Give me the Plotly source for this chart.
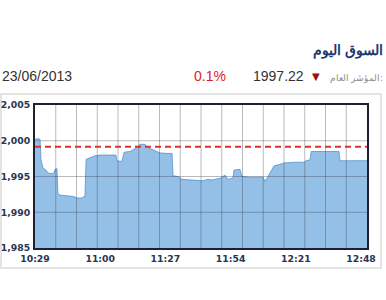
import plotly.graph_objects as go

# ---- data ----
minutes = [0, 1.3, 2.1, 2.5, 3.3, 4.6, 5.4, 6.7, 8.0, 8.4, 9.2, 9.6, 10.5, 13.0, 14.7, 16.3,
           17.6, 19.7, 20.5, 20.9, 21.4, 23.0, 25.1, 27.2, 31.4, 33.9, 34.3, 36.4, 37.3, 39.8,
           42.3, 44.0, 46.1, 47.3, 49.0, 50.7, 52.3, 56.5, 57.4, 57.8, 59.9, 61.5, 64.9, 67.8,
           70.3, 72.4, 74.1, 76.6, 77.9, 79.5, 80.8, 82.9, 83.3, 85.8, 86.7, 90.0, 93.4, 95.5,
           96.3, 97.5, 98.4, 100.1, 102.6, 104.2, 108.9, 112.6, 113.5, 115.1, 115.6, 127.3,
           127.7, 139.0]
values = [2000.2, 2000.3, 2000.2, 1997.4, 1996.2, 1995.9, 1995.5, 1995.4, 1995.5, 1996.0,
          1996.1, 1992.6, 1992.4, 1992.3, 1992.2, 1992.2, 1992.0, 1992.0, 1992.2, 1992.2,
          1997.4, 1997.6, 1997.9, 1998.0, 1998.0, 1998.0, 1997.2, 1997.1, 1998.4, 1998.5,
          1999.0, 1999.5, 1999.5, 1999.0, 1998.8, 1998.5, 1998.3, 1998.2, 1998.2, 1995.1,
          1995.0, 1994.6, 1994.5, 1994.5, 1994.4, 1994.6, 1994.5, 1994.7, 1994.8, 1995.2,
          1994.6, 1994.8, 1995.9, 1996.0, 1995.0, 1994.9, 1994.9, 1994.9, 1994.3, 1995.0,
          1995.7, 1996.5, 1996.7, 1996.9, 1997.0, 1997.0, 1997.2, 1997.3, 1998.5, 1998.5,
          1997.2, 1997.22]
prev_close = 1999.15
x_tick_labels = ["10:29", "11:00", "11:27", "11:54", "12:21", "12:48"]
y_ticks = [1985, 1990, 1995, 2000, 2005]

title = "السوق اليوم"
index_label = "المؤشر العام:"
index_value = "1997.22"
change_pct = "0.1%"
date_text = "23/06/2013"

# ---- layout helpers ----
W, H = 386, 300
L, R, T, B = 35, 19, 105, 52
pw, ph = W - L - R, H - T - B
def px(x):
    return (x - L) / pw
def py(y):
    return (H - B - y) / ph

x_max = 139.0
n_grid = 16
tick_pos = [i * 136.5 / 5 for i in range(6)]
tick_font = dict(family="DejaVu Sans", size=9.3, color="#2a3550", weight="bold")
grid_col = "rgba(45,50,65,0.33)"

fig = go.Figure()
fig.add_trace(go.Scatter(
    x=minutes, y=values, mode="lines", fill="tozeroy",
    line=dict(color="rgba(70,140,205,0.7)", width=1),
    fillcolor="rgba(70,145,212,0.58)", hoverinfo="skip", showlegend=False))
# invisible trace for label axis
fig.add_trace(go.Scatter(x=[0, x_max], y=[1985, 1985], xaxis="x2", mode="lines",
                         line=dict(width=0), opacity=0, showlegend=False, hoverinfo="skip"))

# grid lines drawn above the area (as in the reference)
for i in range(1, n_grid):
    fig.add_vline(x=i * x_max / n_grid, line=dict(color=grid_col, width=1), layer="above")
for v in y_ticks[1:-1]:
    fig.add_hline(y=v, line=dict(color=grid_col, width=1), layer="above")

fig.add_hline(y=prev_close, line=dict(color="#e0302a", width=2, dash="6px,4px"), layer="above")

fig.update_layout(
    width=W, height=H,
    margin=dict(l=L, r=R, t=T, b=B, autoexpand=False),
    paper_bgcolor="white", plot_bgcolor="white",
    xaxis=dict(range=[0, x_max], showticklabels=False, showgrid=False,
               showline=True, linecolor="#1c2030", linewidth=2, mirror=True,
               zeroline=False, ticks="", automargin=False, layer="above traces"),
    xaxis2=dict(range=[0, x_max], overlaying="x", side="bottom", tickmode="array",
                tickvals=tick_pos, ticktext=x_tick_labels, showgrid=False, zeroline=False,
                showline=False, ticks="", automargin=False, ticklabelstandoff=4,
                tickfont=tick_font),
    yaxis=dict(range=[1985, 2005], tickmode="array", tickvals=y_ticks,
               ticktext=[f"{v:,}" for v in y_ticks], showgrid=False,
               showline=True, linecolor="#1c2030", linewidth=2, mirror=True,
               zeroline=False, ticks="", automargin=False, ticklabelstandoff=1,
               tickfont=tick_font, layer="above traces"),
)

# panel border
fig.add_shape(type="rect", xref="paper", yref="paper",
              x0=px(1), x1=px(381), y0=py(268), y1=py(94),
              line=dict(color="#dcdcdc", width=1.5), layer="below")

ann = [
    dict(text=title, x=px(385), y=py(50), xanchor="right", yanchor="middle",
         font=dict(family="Noto Sans", size=13.5, color="#1d3a70", weight="bold")),
    dict(text=index_label, x=px(385), y=py(77), xanchor="right", yanchor="middle",
         font=dict(family="Noto Sans", size=9, color="#8a8a8a")),
    dict(text="▼", x=px(316), y=py(76), xanchor="center", yanchor="middle",
         font=dict(family="DejaVu Sans", size=10, color="#9a1010")),
    dict(text=index_value, x=px(306), y=py(76), xanchor="right", yanchor="middle",
         font=dict(family="Liberation Sans", size=14, color="#333333")),
    dict(text=change_pct, x=px(228), y=py(76), xanchor="right", yanchor="middle",
         font=dict(family="Liberation Sans", size=14, color="#e0202a")),
    dict(text=date_text, x=px(0), y=py(76), xanchor="left", yanchor="middle",
         font=dict(family="Liberation Sans", size=14, color="#333333")),
]
for a in ann:
    fig.add_annotation(xref="paper", yref="paper", showarrow=False, **a)

fig.write_html("out.html")
